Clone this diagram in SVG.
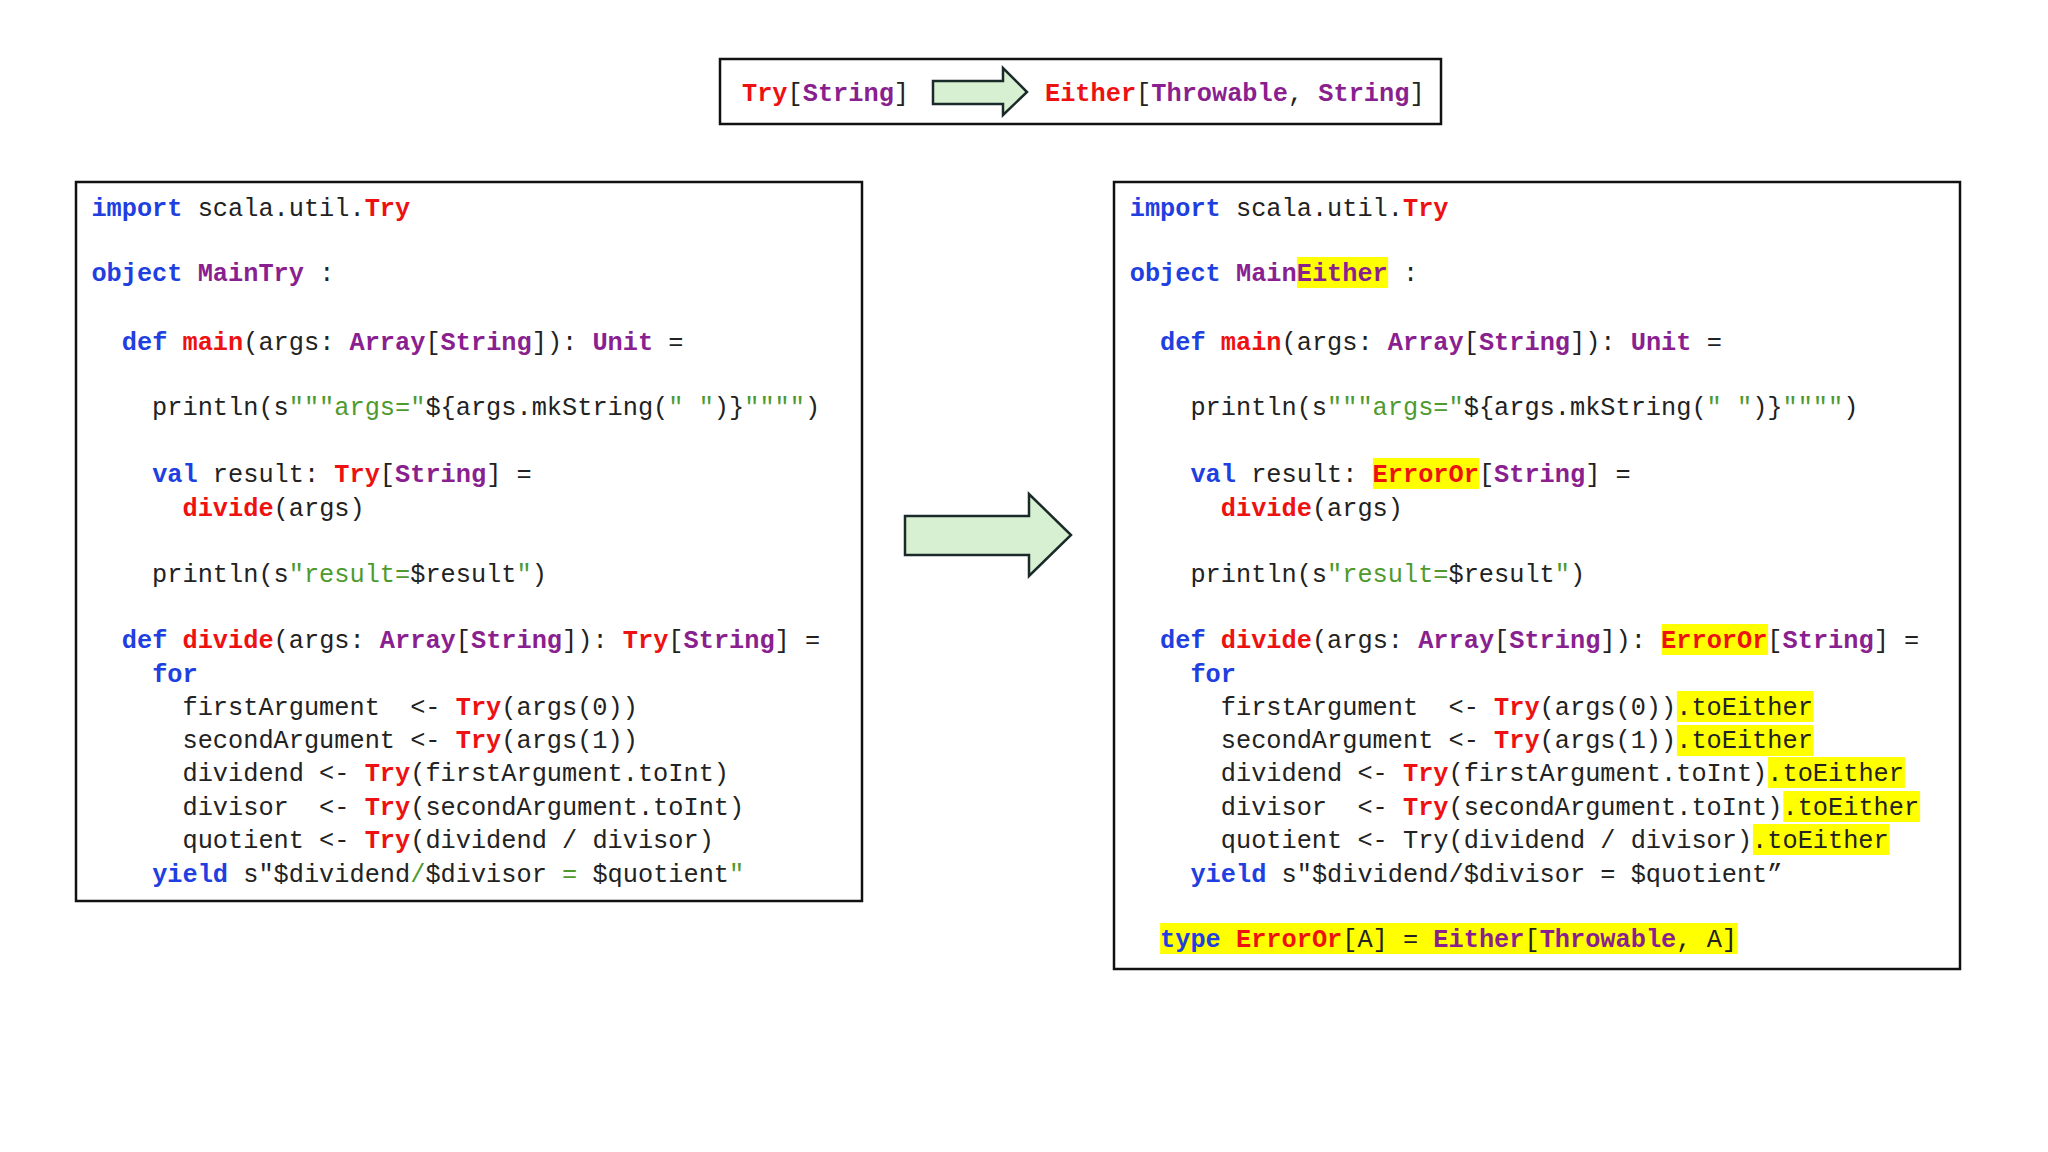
<svg xmlns="http://www.w3.org/2000/svg" width="2048" height="1152" viewBox="0 0 2048 1152">
<style>
text{font-family:"Liberation Mono","DejaVu Sans Mono",monospace;font-size:25.3px;fill:#222;white-space:pre}
.k{fill:#1f3fe0;font-weight:bold}
.r{fill:#ee1111;font-weight:bold}
.p{fill:#8a1f8f;font-weight:bold}
.g{fill:#4f9a2f}
.box{fill:#fff;stroke:#111;stroke-width:2.5}
.hl{fill:#ffff00}
.arrow{fill:#d8f0d2;stroke:#1a2a2a;stroke-width:2.5}
</style>
<rect width="2048" height="1152" fill="#fff"/>
<g id="header">
<rect class="box" x="720" y="59" width="721" height="65"/>
<text x="742" y="101" xml:space="preserve"><tspan class="r">Try</tspan>[<tspan class="p">String</tspan>]</text>
<text x="1045" y="101" xml:space="preserve"><tspan class="r">Either</tspan>[<tspan class="p">Throwable</tspan>, <tspan class="p">String</tspan>]</text>
<polygon class="arrow" points="933,81 1003,81 1003,68 1027,92 1003,115 1003,104 933,104"/>
</g>
<g id="left">
<rect class="box" x="76" y="182" width="786" height="719"/>
<g transform="translate(91.4,0)">
<text y="215.5" xml:space="preserve"><tspan class="k">import</tspan> scala.util.<tspan class="r">Try</tspan></text>
<text y="280.8" xml:space="preserve"><tspan class="k">object</tspan> <tspan class="p">MainTry</tspan> :</text>
<text y="350" xml:space="preserve">  <tspan class="k">def</tspan> <tspan class="r">main</tspan>(args: <tspan class="p">Array</tspan>[<tspan class="p">String</tspan>]): <tspan class="p">Unit</tspan> =</text>
<text y="415.3" xml:space="preserve">    println(s<tspan class="g">"""args="</tspan>${args.mkString(<tspan class="g">" "</tspan>)}<tspan class="g">""""</tspan>)</text>
<text y="481.9" xml:space="preserve">    <tspan class="k">val</tspan> result: <tspan class="r">Try</tspan>[<tspan class="p">String</tspan>] =</text>
<text y="515.8" xml:space="preserve">      <tspan class="r">divide</tspan>(args)</text>
<text y="582.4" xml:space="preserve">    println(s<tspan class="g">"result=</tspan>$result<tspan class="g">"</tspan>)</text>
<text y="648" xml:space="preserve">  <tspan class="k">def</tspan> <tspan class="r">divide</tspan>(args: <tspan class="p">Array</tspan>[<tspan class="p">String</tspan>]): <tspan class="r">Try</tspan>[<tspan class="p">String</tspan>] =</text>
<text y="681.8" xml:space="preserve">    <tspan class="k">for</tspan></text>
<text y="714.5" xml:space="preserve">      firstArgument  &lt;- <tspan class="r">Try</tspan>(args(0))</text>
<text y="748.4" xml:space="preserve">      secondArgument &lt;- <tspan class="r">Try</tspan>(args(1))</text>
<text y="781" xml:space="preserve">      dividend &lt;- <tspan class="r">Try</tspan>(firstArgument.toInt)</text>
<text y="815" xml:space="preserve">      divisor  &lt;- <tspan class="r">Try</tspan>(secondArgument.toInt)</text>
<text y="847.6" xml:space="preserve">      quotient &lt;- <tspan class="r">Try</tspan>(dividend / divisor)</text>
<text y="881.6" xml:space="preserve">    <tspan class="k">yield</tspan> s"$dividend<tspan class="g">/</tspan>$divisor <tspan class="g">=</tspan> $quotient<tspan class="g">"</tspan></text>
</g>
</g>
<g id="middle-arrow">
<polygon class="arrow" points="905,516 1029,516 1029,494 1071,535 1029,576 1029,555 905,555"/>
</g>
<g id="right">
<rect class="box" x="1114" y="182" width="846" height="787"/>
<g transform="translate(1129.7,0)">
<rect class="hl" x="167.2" y="257" width="91.2" height="31"/>
<rect class="hl" x="243.2" y="458" width="106.4" height="31"/>
<rect class="hl" x="532" y="624" width="106.4" height="31"/>
<rect class="hl" x="547.2" y="691" width="136.8" height="31"/>
<rect class="hl" x="547.2" y="725" width="136.8" height="31"/>
<rect class="hl" x="638.4" y="757" width="136.8" height="31"/>
<rect class="hl" x="653.6" y="791" width="136.8" height="31"/>
<rect class="hl" x="623.2" y="824" width="136.8" height="31"/>
<rect class="hl" x="30.4" y="923" width="577.6" height="31"/>
<text y="215.5" xml:space="preserve"><tspan class="k">import</tspan> scala.util.<tspan class="r">Try</tspan></text>
<text y="280.8" xml:space="preserve"><tspan class="k">object</tspan> <tspan class="p">MainEither</tspan> :</text>
<text y="350" xml:space="preserve">  <tspan class="k">def</tspan> <tspan class="r">main</tspan>(args: <tspan class="p">Array</tspan>[<tspan class="p">String</tspan>]): <tspan class="p">Unit</tspan> =</text>
<text y="415.3" xml:space="preserve">    println(s<tspan class="g">"""args="</tspan>${args.mkString(<tspan class="g">" "</tspan>)}<tspan class="g">""""</tspan>)</text>
<text y="481.9" xml:space="preserve">    <tspan class="k">val</tspan> result: <tspan class="r">ErrorOr</tspan>[<tspan class="p">String</tspan>] =</text>
<text y="515.8" xml:space="preserve">      <tspan class="r">divide</tspan>(args)</text>
<text y="582.4" xml:space="preserve">    println(s<tspan class="g">"result=</tspan>$result<tspan class="g">"</tspan>)</text>
<text y="648" xml:space="preserve">  <tspan class="k">def</tspan> <tspan class="r">divide</tspan>(args: <tspan class="p">Array</tspan>[<tspan class="p">String</tspan>]): <tspan class="r">ErrorOr</tspan>[<tspan class="p">String</tspan>] =</text>
<text y="681.8" xml:space="preserve">    <tspan class="k">for</tspan></text>
<text y="714.5" xml:space="preserve">      firstArgument  &lt;- <tspan class="r">Try</tspan>(args(0)).toEither</text>
<text y="748.4" xml:space="preserve">      secondArgument &lt;- <tspan class="r">Try</tspan>(args(1)).toEither</text>
<text y="781" xml:space="preserve">      dividend &lt;- <tspan class="r">Try</tspan>(firstArgument.toInt).toEither</text>
<text y="815" xml:space="preserve">      divisor  &lt;- <tspan class="r">Try</tspan>(secondArgument.toInt).toEither</text>
<text y="847.6" xml:space="preserve">      quotient &lt;- Try(dividend / divisor).toEither</text>
<text y="881.6" xml:space="preserve">    <tspan class="k">yield</tspan> s"$dividend/$divisor = $quotient”</text>
<text y="946.9" xml:space="preserve">  <tspan class="k">type</tspan> <tspan class="r">ErrorOr</tspan>[A] = <tspan class="p">Either</tspan>[<tspan class="p">Throwable</tspan>, A]</text>
</g>
</g>
</svg>
